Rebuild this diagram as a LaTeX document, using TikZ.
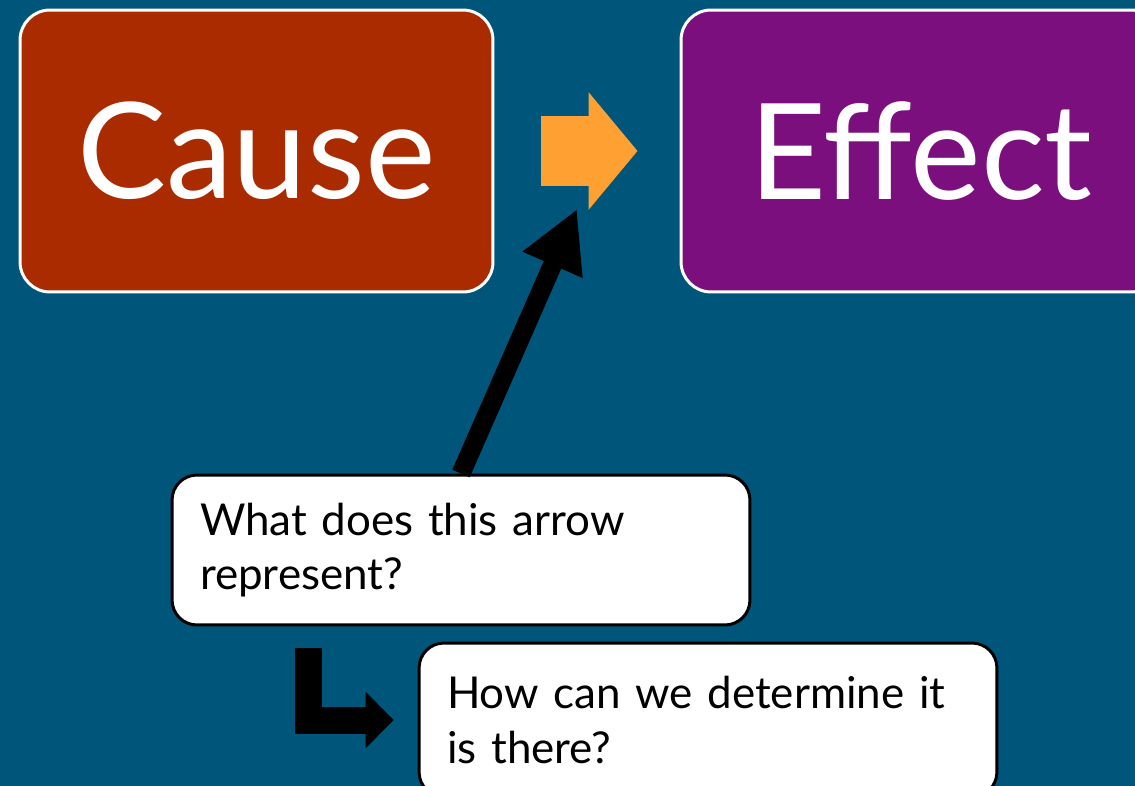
\documentclass[tikz,border=0pt]{standalone}
\usepackage{fontspec}
\setmainfont{Lato}
\usetikzlibrary{arrows.meta,calc}

\definecolor{slidebg}{HTML}{00557A}
\definecolor{causecol}{HTML}{AA2B00}
\definecolor{effectcol}{HTML}{7B0F7D}
\definecolor{arrowcol}{HTML}{FFA032}

\begin{document}
\begin{tikzpicture}[x=0.02cm, y=-0.02cm,
    block/.style={rectangle, rounded corners=0.6cm, draw=white, line width=1.7pt,
        minimum width=9.46cm, minimum height=5.64cm, text=white,
        font=\fontsize{76}{90}\selectfont},
    note/.style={rectangle, rounded corners=0.5cm, draw=black, fill=white, line width=1.7pt,
        minimum width=11.56cm, text width=10.44cm, align=left, inner sep=0pt,
        font=\fontsize{25}{31}\selectfont}]
    % Hintergrund
    \fill[slidebg] (0,0) rectangle (1135,786);
    \useasboundingbox (0,0) rectangle (1135,786);

    % Kaestchen
    \node[block, fill=causecol] (cause) at (256.5,151) {Cause};
    \node[block, fill=effectcol, minimum width=9.6cm] (effect) at (921,151) {Effect};

    \node[note, minimum height=3cm] (q1) at (461,550) {What does this arrow\\represent?};
    \node[note, minimum height=3.08cm] (q2) at (708,720) {How can we determine it\\is there?};

    % Pfeile
    \draw[arrowcol, line width=1.4cm, shorten <=0.94cm, shorten >=0.84cm,
        -{Triangle[length=0.98cm, width=2.3cm]}] (cause.east) -- (effect.west);

    \coordinate (aim) at (577,209);
    \draw[black, line width=0.38cm, -{Triangle[length=1.22cm, width=1.22cm]}]
        (q1.north) -- (aim);

    \coordinate (bend) at (308.5,0);
    \draw[black, line width=0.54cm, miter limit=10, shorten <=0.44cm, shorten >=0.48cm,
        -{Triangle[length=0.56cm, width=1.1cm]}] (q1.south -| bend) |- (q2.west);

\end{tikzpicture}
\end{document}
